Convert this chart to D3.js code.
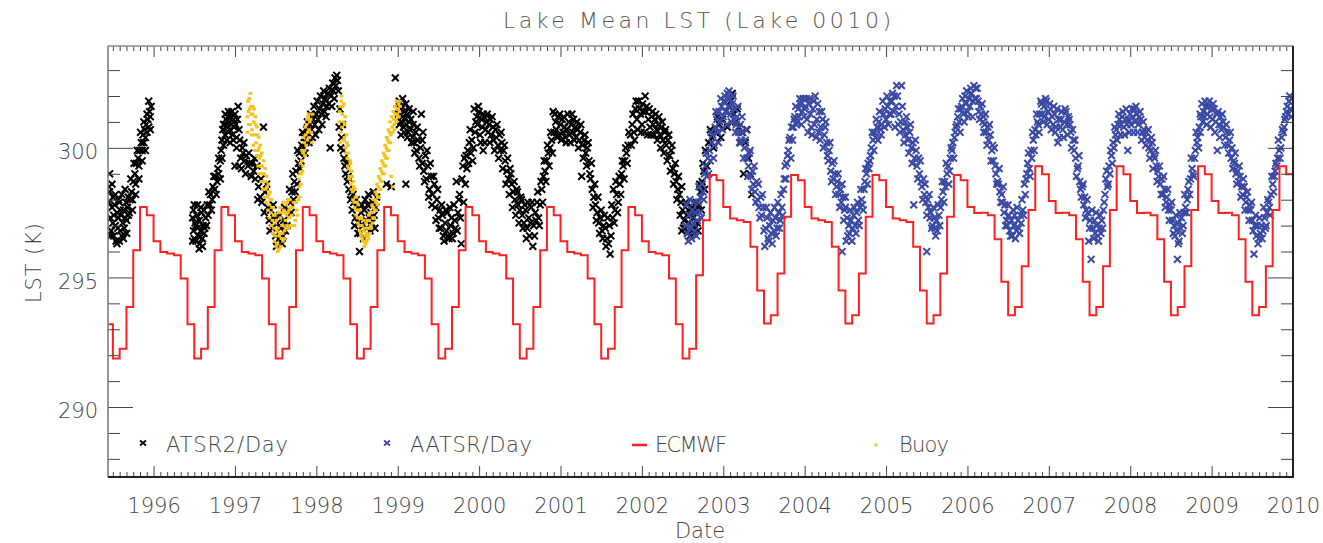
<!DOCTYPE html>
<html><head><meta charset="utf-8">
<script src="https://cdn.jsdelivr.net/npm/d3@7"></script>
<style>
body{margin:0;background:#fff}
svg{display:block}
text{font-family:"DejaVu Sans",sans-serif;font-weight:200}
</style>
</head><body>
<svg id="c" width="1323" height="543"></svg>
<script>
// ---------------- data ----------------
const title = "Lake Mean LST (Lake 0010)";
const yLabel = "LST (K)";
const xLabel = "Date";
const yearTicks = [1996,1997,1998,1999,2000,2001,2002,2003,2004,2005,2006,2007,2008,2009,2010];
const yMajorTicks = [290,295,300];
const yMinorTicks = [288,289,291,292,293,294,296,297,298,299,301,302,303];
const seriesNames = ["ATSR2/Day","AATSR/Day","ECMWF","Buoy"];

// ECMWF monthly values, first month = May 1995
const ecmwfFirstYear = 1995, ecmwfFirstMonth = 4;
const ecmwfMonthly = [
  294.96,293.19,291.87,292.25,293.86,296.05,297.72,297.40,
  296.40,295.98,295.92,295.86,294.96,293.19,291.87,292.25,293.86,296.05,297.72,297.40,
  296.40,295.98,295.92,295.86,294.96,293.19,291.87,292.25,293.86,296.05,297.72,297.40,
  296.40,295.98,295.92,295.86,294.96,293.19,291.87,292.25,293.86,296.05,297.72,297.40,
  296.40,295.98,295.92,295.86,294.96,293.19,291.87,292.25,293.86,296.05,297.72,297.40,
  296.40,295.98,295.92,295.86,294.96,293.19,291.87,292.25,293.86,296.05,297.72,297.40,
  296.40,295.98,295.92,295.86,294.96,293.19,291.87,292.25,293.86,296.05,297.72,297.40,
  296.40,295.98,295.92,295.86,294.96,293.19,291.87,292.25,295.08,297.21,298.95,298.75,
  297.72,297.27,297.21,297.14,296.18,294.50,293.22,293.54,295.15,297.34,298.95,298.75,
  297.72,297.27,297.21,297.14,296.18,294.50,293.22,293.54,295.15,297.34,298.95,298.75,
  297.72,297.27,297.21,297.14,296.18,294.50,293.22,293.54,295.15,297.34,298.95,298.75,
  297.72,297.49,297.50,297.40,296.47,294.83,293.54,293.86,295.43,297.60,299.29,298.98,
  297.95,297.49,297.50,297.40,296.47,294.83,293.54,293.86,295.43,297.60,299.29,298.98,
  297.95,297.49,297.50,297.40,296.47,294.83,293.54,293.86,295.43,297.60,299.29,298.98,
  297.95,297.49,297.50,297.40,296.47,294.83,293.54,293.86,295.43,297.60,299.29,298.98,
  297.95
];

// ATSR2/Day  [decimal year, K]
const atsr2 = [
[1995.45,297.9],[1995.46,299.0],[1995.46,298.3],[1995.47,297.3],[1995.48,296.8],[1995.49,297.7],[1995.50,298.1],[1995.50,297.1],[1995.51,296.6],[1995.52,297.8],[1995.53,297.0],[1995.54,296.4],[1995.55,297.5],[1995.56,296.9],[1995.57,297.3],[1995.58,296.4],[1995.58,297.9],[1995.59,296.8],[1995.60,297.4],[1995.61,296.6],[1995.62,297.1],[1995.63,297.6],[1995.64,296.9],[1995.65,297.3],[1995.66,297.9],[1995.67,297.2],[1995.68,297.7],[1995.69,298.1],[1995.70,297.5],[1995.71,298.0],[1995.73,298.3],[1995.74,298.0],[1995.75,298.7],[1995.77,299.0],[1995.78,298.6],[1995.79,299.4],[1995.81,299.6],[1995.82,299.3],[1995.83,299.9],[1995.85,300.2],[1995.86,299.9],[1995.87,300.5],[1995.88,300.2],[1995.89,300.7],[1995.90,300.4],[1995.91,300.9],[1995.92,300.6],[1995.93,301.1],[1995.94,300.8],[1995.95,301.4],[1995.96,301.2],[1995.97,301.6],
[1996.48,297.3],[1996.49,296.8],[1996.49,297.6],[1996.50,296.5],[1996.51,297.1],[1996.52,296.4],[1996.53,297.4],[1996.54,296.9],[1996.55,296.6],[1996.56,297.2],[1996.57,296.3],[1996.58,296.8],[1996.59,297.5],[1996.60,296.5],[1996.61,297.0],[1996.62,297.6],[1996.63,296.9],[1996.64,297.3],[1996.66,297.8],[1996.67,297.4],[1996.69,297.8],[1996.70,298.2],[1996.72,298.0],[1996.73,298.5],[1996.75,298.4],[1996.76,298.9],[1996.78,298.7],[1996.79,299.2],[1996.80,299.0],[1996.82,299.5],[1996.83,299.9],[1996.84,300.3],[1996.85,300.7],[1996.86,300.1],[1996.87,300.9],[1996.88,300.5],[1996.89,301.1],[1996.90,300.8],[1996.91,301.2],[1996.92,300.6],[1996.93,301.0],[1996.94,300.7],[1996.95,301.2],[1996.96,300.9],[1996.97,300.5],[1996.98,301.1],[1996.99,300.8],[1997.00,299.3],[1997.01,300.9],[1997.02,300.4],[1997.03,301.1],[1997.04,301.6],[1997.05,300.7],[1997.06,300.3],[1997.07,299.6],[1997.09,300.0],[1997.10,299.8],[1997.12,299.5],[1997.14,299.7],[1997.16,299.3],[1997.18,299.4],[1997.21,299.4],[1997.23,299.1],[1997.25,298.8],[1997.27,299.3],[1997.29,298.5],[1997.31,298.1],[1997.33,297.9],[1997.35,300.8],[1997.37,298.3],[1997.40,297.7],[1997.42,297.2],[1997.44,297.6],[1997.46,296.9],[1997.48,297.3],[1997.50,296.6],[1997.52,297.1],[1997.54,296.5],[1997.56,296.9],[1997.58,296.3],[1997.60,297.2],[1997.62,296.8],
[1997.66,297.6],[1997.68,297.9],[1997.70,298.3],[1997.72,298.0],[1997.73,298.7],[1997.75,299.1],[1997.76,298.6],[1997.78,299.4],[1997.79,299.8],[1997.81,299.5],[1997.82,300.1],[1997.84,300.0],[1997.85,300.4],[1997.87,300.2],[1997.88,300.7],[1997.90,300.5],[1997.92,300.9],[1997.94,300.7],[1997.96,301.1],[1997.98,300.9],[1998.00,301.3],[1998.02,301.1],[1998.04,301.5],[1998.06,301.3],[1998.08,301.7],[1998.10,301.4],[1998.11,301.9],[1998.13,301.6],[1998.14,302.1],[1998.16,302.3],[1998.17,300.0],[1998.18,302.0],[1998.20,302.5],[1998.21,302.2],[1998.23,302.7],[1998.24,302.4],[1998.25,302.8],[1998.26,302.6],[1998.28,300.8],[1998.29,301.5],[1998.31,300.4],[1998.33,299.9],[1998.35,299.3],[1998.36,299.0],[1998.38,298.7],[1998.40,298.4],[1998.42,298.0],[1998.44,297.6],[1998.46,297.9],[1998.48,297.3],[1998.50,297.7],[1998.52,297.1],[1998.53,296.0],[1998.55,297.5],[1998.57,297.0],[1998.59,297.6],[1998.61,297.2],[1998.63,297.8],[1998.65,297.3],[1998.67,297.5],[1998.69,297.9],[1998.71,297.4],[1998.73,297.7],
[1998.86,298.6],[1998.92,298.5],[1998.97,302.7],[1999.01,301.3],[1999.02,300.9],[1999.03,301.5],[1999.04,301.0],[1999.05,301.6],[1999.06,301.2],[1999.07,300.8],[1999.08,301.4],[1999.09,301.1],[1999.10,298.6],[1999.11,300.9],[1999.12,301.3],[1999.13,300.6],[1999.14,301.0],[1999.15,300.7],[1999.16,301.1],[1999.18,300.4],[1999.19,300.9],[1999.20,300.2],[1999.22,300.6],[1999.23,299.9],[1999.25,300.3],[1999.26,299.6],[1999.28,300.0],[1999.29,301.3],[1999.30,299.4],[1999.31,300.6],[1999.32,299.1],[1999.34,299.7],[1999.35,298.8],[1999.37,299.3],[1999.39,298.4],[1999.41,298.9],[1999.43,298.2],[1999.45,298.6],[1999.46,297.7],[1999.48,298.0],[1999.50,297.3],[1999.52,297.6],[1999.53,296.9],[1999.55,297.4],[1999.56,296.6],[1999.58,297.1],[1999.60,296.8],[1999.61,297.5],[1999.63,296.5],[1999.65,297.0],[1999.66,297.3],[1999.68,296.7],[1999.70,297.2],[1999.71,296.9],[1999.72,298.7],[1999.74,297.5],[1999.76,298.2],[1999.77,297.3],[1999.78,296.3],[1999.80,299.3],[1999.81,297.9],[1999.82,299.6],[1999.83,298.6],[1999.84,299.7],[1999.86,299.9],[1999.87,299.4],[1999.88,300.2],[1999.90,299.8],[1999.91,300.3],[1999.93,300.0],
[1999.94,301.5],[1999.95,300.6],[1999.97,301.2],[1999.98,300.9],[2000.00,301.4],[2000.01,300.5],[2000.03,301.1],[2000.04,300.8],[2000.05,299.9],[2000.06,301.2],[2000.08,300.7],[2000.09,301.0],[2000.11,300.6],[2000.12,300.9],[2000.14,301.1],[2000.15,300.5],[2000.17,300.8],[2000.18,300.3],[2000.20,300.7],[2000.21,300.4],[2000.23,300.1],[2000.25,300.5],[2000.26,299.9],[2000.28,300.2],[2000.30,299.9],[2000.32,299.5],[2000.34,299.1],[2000.36,298.8],[2000.38,299.2],[2000.40,298.6],[2000.42,298.3],[2000.44,298.0],[2000.46,298.4],[2000.48,297.8],[2000.50,297.6],[2000.52,298.0],[2000.53,297.4],[2000.55,297.1],[2000.57,297.6],[2000.59,296.9],[2000.61,297.3],[2000.62,296.6],[2000.64,297.7],[2000.66,296.2],[2000.67,297.0],[2000.69,297.5],[2000.71,297.9],[2000.73,297.3],[2000.75,297.8],[2000.77,298.4],[2000.79,298.9],[2000.81,299.1],[2000.83,299.5],[2000.85,299.8],[2000.87,300.0],[2000.89,300.3],
[2000.91,301.4],[2000.92,300.6],[2000.94,301.0],[2000.95,300.7],[2000.97,301.2],[2000.98,300.5],[2001.00,300.9],[2001.02,301.1],[2001.03,300.6],[2001.05,300.8],[2001.06,300.4],[2001.08,300.7],[2001.10,301.0],[2001.11,300.5],[2001.13,300.9],[2001.15,300.6],[2001.16,301.1],[2001.18,300.8],[2001.19,300.4],[2001.21,300.7],[2001.23,300.3],[2001.24,300.6],[2001.26,298.9],[2001.27,300.1],[2001.29,300.3],[2001.31,299.8],[2001.33,300.0],[2001.35,299.5],[2001.37,298.8],[2001.39,298.4],[2001.41,298.1],[2001.43,297.8],[2001.45,297.5],[2001.47,297.1],[2001.49,297.3],[2001.51,296.8],[2001.53,297.0],[2001.55,296.9],[2001.57,296.5],[2001.59,296.3],[2001.61,295.9],[2001.63,297.8],[2001.65,298.4],[2001.67,297.6],[2001.69,298.2],[2001.71,297.9],[2001.73,298.6],[2001.75,299.0],[2001.77,299.3],[2001.79,299.5],[2001.81,299.8],[2001.83,300.1],
[2001.86,300.5],[2001.88,300.9],[2001.90,300.6],[2001.92,301.5],[2001.94,301.1],[2001.96,301.8],[2001.98,301.3],[2002.00,300.9],[2002.02,301.4],[2002.04,302.0],[2002.06,301.6],[2002.08,301.1],[2002.10,300.8],[2002.12,301.2],[2002.14,300.9],[2002.16,301.1],[2002.18,300.7],[2002.20,300.9],[2002.22,300.5],[2002.24,300.8],[2002.26,300.3],[2002.28,300.6],[2002.30,300.1],[2002.32,300.3],[2002.34,299.7],[2002.36,299.9],[2002.38,299.2],[2002.40,299.0],[2002.42,298.7],[2002.44,298.4],[2002.46,298.2],[2002.48,297.9],[2002.49,296.8],[2002.50,297.6],[2002.52,297.2],[2002.53,296.9],[2002.55,297.4],[2002.56,296.7],[2002.58,297.1],[2002.60,297.5],[2002.61,296.8],[2002.63,297.3],[2002.65,296.9],[2002.66,297.6],[2002.68,297.1],[2002.70,297.8],[2002.72,298.3],[2002.74,298.7],[2002.76,299.1],[2002.78,299.9],[2002.82,300.2],[2002.86,300.4],[2002.90,300.6],[2002.95,300.9],[2002.99,301.1],[2003.03,301.4],[2003.07,301.6],[2003.11,302.1],[2003.13,301.3],[2003.15,301.0],[2003.19,300.8],[2003.23,300.6],[2003.25,299.0],[2003.27,300.2],[2003.31,299.6],[2003.35,298.2],
[1995.45,298.5],[1995.47,296.6],[1995.49,298.6],[1995.51,297.4],[1995.53,298.2],[1995.55,296.3],[1995.57,298.0],[1995.59,297.6],[1995.61,298.2],[1995.63,296.5],[1995.65,298.4],[1995.67,296.7],[1995.69,297.4],[1995.72,298.8],[1995.74,297.6],[1995.76,299.4],[1995.78,298.2],[1995.80,299.9],[1995.82,298.8],[1995.84,300.6],[1995.86,299.5],[1995.88,301.0],[1995.90,299.9],[1995.92,301.3],[1995.94,301.8],[1995.96,300.7],
[1996.48,296.4],[1996.50,297.8],[1996.52,297.0],[1996.54,297.8],[1996.56,296.1],[1996.58,297.7],[1996.60,296.2],[1996.62,296.7],[1996.65,297.0],[1996.68,298.3],[1996.71,297.6],[1996.74,298.9],[1996.77,298.2],[1996.80,299.6],[1996.82,298.8],[1996.84,299.6],[1996.86,300.9],[1996.88,301.3],[1996.90,300.3],[1996.92,301.4],[1996.94,300.2],[1996.96,301.4],[1996.98,300.3],[1997.00,301.3],[1997.02,300.0],[1997.05,299.3],[1997.08,299.2],[1997.11,300.2],[1997.13,299.0],[1997.17,299.8],[1997.20,298.9],[1997.24,299.6],[1997.28,298.0],[1997.32,298.8],[1997.36,297.5],[1997.39,298.6],[1997.43,296.8],[1997.47,297.8],[1997.51,296.2],[1997.55,297.4],[1997.59,296.6],[1997.61,297.7],[1997.64,297.0],
[1997.67,298.4],[1997.69,297.5],[1997.71,299.0],[1997.74,298.3],[1997.77,299.9],[1997.80,299.2],[1997.83,300.6],[1997.86,299.8],[1997.89,301.0],[1997.91,300.2],[1997.93,301.3],[1997.95,300.4],[1997.97,301.6],[1997.99,300.5],[1998.01,301.8],[1998.03,300.7],[1998.05,302.0],[1998.07,300.9],[1998.09,302.2],[1998.12,301.2],[1998.15,301.7],[1998.19,301.6],[1998.22,301.9],[1998.27,302.2],[1998.30,300.0],[1998.32,300.9],[1998.34,299.6],[1998.37,299.4],[1998.39,298.9],[1998.41,298.8],[1998.43,298.3],[1998.45,298.2],[1998.47,297.0],[1998.49,298.0],[1998.51,296.7],[1998.54,296.7],[1998.56,297.8],[1998.58,296.5],[1998.60,298.0],[1998.62,296.9],[1998.64,298.2],[1998.66,296.8],[1998.68,297.1],[1998.70,298.3],[1998.72,296.9],[1998.74,298.1],
[1999.02,301.8],[1999.04,300.5],[1999.06,301.9],[1999.08,300.6],[1999.10,301.7],[1999.12,300.4],[1999.14,301.5],[1999.17,300.2],[1999.19,301.4],[1999.21,299.8],[1999.24,300.8],[1999.27,299.3],[1999.30,300.3],[1999.33,298.7],[1999.36,299.9],[1999.38,298.1],[1999.40,299.4],[1999.42,297.8],[1999.44,298.9],[1999.47,297.2],[1999.49,298.4],[1999.51,296.9],[1999.54,297.8],[1999.57,296.4],[1999.59,297.6],[1999.62,296.6],[1999.64,297.7],[1999.67,296.5],[1999.69,297.8],[1999.73,296.8],[1999.75,298.0],[1999.79,298.8],[1999.85,299.2],[1999.89,300.7],[1999.92,299.5],
[1999.96,301.0],[1999.99,301.6],[2000.02,300.2],[2000.05,301.3],[2000.07,300.2],[2000.10,301.3],[2000.13,300.2],[2000.16,301.2],[2000.19,299.9],[2000.22,300.9],[2000.24,299.6],[2000.27,300.6],[2000.29,299.2],[2000.31,300.1],[2000.33,298.6],[2000.35,299.6],[2000.37,298.2],[2000.39,299.0],[2000.41,297.7],[2000.43,298.7],[2000.45,297.4],[2000.47,298.3],[2000.49,297.1],[2000.51,298.1],[2000.54,296.9],[2000.56,297.8],[2000.58,296.5],[2000.60,297.9],[2000.63,297.1],[2000.65,297.9],[2000.68,296.6],[2000.70,297.2],[2000.72,298.3],[2000.74,297.0],[2000.76,298.7],[2000.78,297.9],[2000.80,299.5],[2000.82,298.7],[2000.84,300.1],[2000.86,299.3],[2000.88,300.6],[2000.90,299.8],
[2000.93,301.3],[2000.96,300.4],[2000.99,301.3],[2001.01,300.3],[2001.04,301.2],[2001.07,300.2],[2001.09,301.3],[2001.12,300.2],[2001.14,301.3],[2001.17,300.3],[2001.20,301.0],[2001.22,300.0],[2001.25,300.9],[2001.28,299.6],[2001.30,300.5],[2001.32,299.3],[2001.34,300.2],[2001.36,299.0],[2001.38,299.4],[2001.40,297.7],[2001.42,298.6],[2001.44,297.2],[2001.46,298.1],[2001.48,296.7],[2001.50,297.6],[2001.52,296.5],[2001.54,297.4],[2001.56,296.2],[2001.58,297.3],[2001.60,297.0],[2001.62,296.6],[2001.64,297.3],[2001.66,297.1],[2001.68,298.7],[2001.70,297.5],[2001.72,298.9],[2001.74,298.2],[2001.76,299.5],[2001.78,298.8],[2001.80,300.0],[2001.82,299.4],[2001.84,300.6],
[2001.87,300.1],[2001.89,301.3],[2001.91,300.3],[2001.93,301.8],[2001.95,300.7],[2001.97,301.5],[2001.99,300.6],[2002.01,301.7],[2002.03,300.6],[2002.05,301.4],[2002.07,300.5],[2002.09,301.5],[2002.11,300.5],[2002.13,301.4],[2002.15,300.5],[2002.17,301.3],[2002.19,300.3],[2002.21,301.2],[2002.23,300.0],[2002.25,301.0],[2002.27,299.8],[2002.29,300.7],[2002.31,299.5],[2002.33,300.5],[2002.35,299.1],[2002.37,300.1],[2002.39,298.6],[2002.41,299.4],[2002.43,298.0],[2002.45,298.9],[2002.47,297.4],[2002.49,298.5],[2002.51,296.9],[2002.54,297.9],[2002.57,297.6],[2002.59,296.6],[2002.62,297.7],[2002.64,296.7],[2002.67,297.9],[2002.69,296.8],[2002.71,298.6],[2002.73,297.6],[2002.75,299.4],[2002.77,298.4],[2002.80,299.3],[2002.84,300.7],[2002.88,300.0],[2002.93,301.2],[2002.97,300.4],[2003.01,301.8],[2003.05,300.8],[2003.09,301.8],[2003.17,301.5],[2003.21,300.2],[2003.29,300.7],[2003.33,299.0]
];

// AATSR/Day  [decimal year, K]
const aatsr = [
[2002.54,297.0],[2002.56,296.7],[2002.58,297.4],[2002.60,296.9],[2002.62,297.6],[2002.63,297.1],[2002.65,296.8],[2002.66,297.5],[2002.68,297.2],[2002.69,297.9],[2002.71,297.5],[2002.72,298.1],[2002.74,298.6],[2002.75,298.3],[2002.77,299.0],[2002.78,299.3],[2002.80,298.9],[2002.81,299.6],[2002.83,299.9],[2002.84,299.5],[2002.86,300.2],[2002.87,300.5],[2002.89,300.1],[2002.90,300.8],
[2002.92,301.1],[2002.93,300.6],[2002.95,301.4],[2002.96,301.0],[2002.98,301.6],[2003.00,301.2],[2003.01,301.8],[2003.03,301.4],[2003.05,302.1],[2003.06,301.6],[2003.08,301.9],[2003.09,301.3],[2003.11,301.7],[2003.13,301.1],[2003.14,301.5],[2003.16,300.9],[2003.17,301.2],[2003.19,300.6],[2003.21,300.9],[2003.22,300.3],[2003.24,300.6],[2003.26,300.0],[2003.27,300.3],
[2003.29,299.6],[2003.31,299.3],[2003.32,299.8],[2003.34,298.9],[2003.36,299.1],[2003.37,298.6],[2003.39,298.3],[2003.41,298.7],[2003.42,298.0],[2003.44,297.7],[2003.46,298.1],[2003.47,297.4],[2003.49,297.7],[2003.51,296.2],[2003.52,296.9],[2003.54,297.3],[2003.56,296.4],[2003.57,297.0],[2003.59,296.7],[2003.61,297.2],[2003.62,296.8],[2003.64,297.3],[2003.66,296.9],[2003.68,297.5],[2003.70,297.2],
[2003.72,297.7],[2003.74,298.4],[2003.76,299.3],[2003.77,298.8],[2003.79,299.7],[2003.80,299.9],[2003.82,300.4],[2003.84,300.8],[2003.85,300.3],[2003.87,301.1],[2003.88,301.2],[2003.90,300.9],[2003.92,301.5],[2003.93,301.2],
[2003.95,301.7],[2003.97,301.4],[2003.98,301.9],[2004.00,301.5],[2004.01,301.6],[2004.03,301.1],[2004.05,301.7],[2004.07,301.3],[2004.08,300.8],[2004.10,301.5],[2004.12,300.9],[2004.13,302.0],[2004.15,301.1],[2004.17,300.6],[2004.18,301.4],[2004.20,300.8],[2004.22,301.1],[2004.24,300.5],[2004.25,300.8],[2004.27,300.2],
[2004.29,299.5],[2004.30,299.9],[2004.32,299.1],[2004.34,299.4],[2004.35,298.8],[2004.37,299.0],[2004.39,298.5],[2004.40,298.7],[2004.42,298.2],[2004.44,298.4],[2004.45,297.9],[2004.46,296.0],[2004.47,298.1],[2004.49,297.6],[2004.50,297.7],[2004.51,296.4],[2004.52,297.3],[2004.54,297.0],[2004.55,296.7],[2004.57,297.2],[2004.59,296.9],[2004.60,297.4],[2004.62,297.0],[2004.64,297.5],[2004.66,297.2],
[2004.68,297.7],[2004.70,298.0],[2004.71,297.8],[2004.73,298.4],[2004.74,298.7],[2004.76,299.0],[2004.78,299.4],[2004.79,299.2],[2004.81,299.7],[2004.82,300.0],[2004.84,300.3],[2004.86,300.6],[2004.87,300.4],[2004.89,300.8],[2004.91,301.0],[2004.93,300.7],[2004.95,300.9],
[2004.97,301.3],[2004.99,301.5],[2005.00,301.1],[2005.02,301.6],[2005.04,301.3],[2005.05,301.8],[2005.07,301.8],[2005.09,301.4],[2005.10,302.0],[2005.12,301.6],[2005.13,302.4],[2005.15,300.9],[2005.16,301.3],[2005.18,301.0],[2005.19,302.4],[2005.21,300.7],[2005.23,301.0],[2005.24,300.5],[2005.26,300.8],[2005.27,300.3],[2005.29,300.6],[2005.31,300.0],[2005.33,300.2],[2005.34,297.8],[2005.35,299.6],[2005.37,299.9],[2005.38,299.3],[2005.40,299.6],
[2005.41,299.0],[2005.43,298.7],[2005.44,298.5],[2005.46,298.8],[2005.47,298.2],[2005.49,297.9],[2005.50,296.0],[2005.51,298.0],[2005.52,297.7],[2005.54,297.3],[2005.55,297.5],[2005.57,297.0],[2005.59,297.3],[2005.60,296.9],[2005.62,297.2],[2005.63,296.8],[2005.65,297.4],
[2005.67,297.7],[2005.68,298.0],[2005.70,298.3],[2005.72,298.7],[2005.73,298.5],[2005.75,299.0],[2005.76,299.3],[2005.78,299.1],[2005.79,299.6],[2005.81,299.9],[2005.82,300.2],[2005.84,300.4],[2005.85,300.6],[2005.87,300.9],[2005.88,301.2],[2005.90,301.0],
[2005.92,301.5],[2005.93,301.6],[2005.95,301.3],[2005.97,302.0],[2005.98,301.7],[2006.00,301.4],[2006.02,301.9],[2006.03,301.6],[2006.05,302.1],[2006.07,301.8],[2006.08,302.4],[2006.10,302.3],[2006.11,301.9],[2006.13,301.8],[2006.14,301.4],[2006.16,301.6],[2006.17,301.3],[2006.19,301.0],[2006.20,301.2],[2006.21,300.9],[2006.23,300.6],[2006.25,300.8],[2006.26,300.3],[2006.28,300.5],
[2006.30,299.9],[2006.31,300.1],[2006.32,299.5],[2006.34,299.3],[2006.35,299.0],[2006.37,298.7],[2006.38,298.6],[2006.40,298.3],[2006.42,298.2],[2006.43,297.9],[2006.45,297.5],[2006.46,297.8],[2006.48,297.2],[2006.49,297.0],[2006.51,297.4],[2006.52,296.8],[2006.54,297.2],[2006.55,296.6],[2006.57,297.0],[2006.58,297.4],[2006.60,296.8],[2006.62,297.2],[2006.63,296.9],[2006.65,297.4],[2006.66,297.1],[2006.68,297.6],
[2006.70,298.6],[2006.71,298.2],[2006.73,299.0],[2006.74,299.4],[2006.76,299.2],[2006.78,299.9],[2006.79,299.6],[2006.81,300.3],[2006.83,300.7],[2006.84,300.5],[2006.86,301.0],[2006.87,300.9],[2006.89,301.3],
[2006.91,301.7],[2006.92,301.3],[2006.94,301.6],[2006.95,301.2],[2006.97,301.8],[2006.99,301.4],[2007.00,301.1],[2007.02,301.5],[2007.04,301.2],[2007.05,300.9],[2007.07,301.3],[2007.09,300.8],[2007.11,300.2],[2007.12,301.1],[2007.14,300.8],[2007.15,301.1],[2007.17,300.7],[2007.19,301.0],[2007.21,301.4],[2007.22,300.9],[2007.24,301.2],[2007.25,301.1],[2007.27,300.6],[2007.29,300.7],[2007.30,300.3],
[2007.31,299.9],[2007.33,299.6],[2007.35,299.2],[2007.36,299.3],[2007.38,298.7],[2007.40,298.1],[2007.41,298.5],[2007.43,297.8],[2007.44,298.1],[2007.46,297.6],[2007.48,297.5],[2007.49,296.4],[2007.51,297.2],[2007.52,295.7],[2007.54,296.9],[2007.56,297.2],[2007.57,296.7],[2007.59,297.0],[2007.60,296.6],[2007.62,296.9],[2007.64,296.7],[2007.65,297.2],[2007.67,297.6],
[2007.69,298.2],[2007.70,298.8],[2007.72,298.5],[2007.74,299.3],[2007.75,299.0],[2007.77,299.7],[2007.79,300.2],[2007.80,300.0],[2007.82,300.5],[2007.83,300.7],[2007.85,300.9],[2007.87,301.1],
[2007.89,300.9],[2007.90,301.2],[2007.92,300.8],[2007.94,301.1],[2007.96,300.9],[2007.97,299.9],[2007.98,301.1],[2008.00,301.3],[2008.01,300.9],[2008.03,301.2],[2008.05,301.5],[2008.06,301.0],[2008.08,301.3],[2008.10,300.9],[2008.11,301.2],[2008.13,301.1],[2008.15,300.6],[2008.17,300.7],[2008.18,300.4],[2008.20,300.6],[2008.21,300.3],[2008.23,300.0],[2008.25,299.9],[2008.27,300.2],[2008.29,299.7],[2008.30,299.6],
[2008.32,299.3],[2008.34,299.1],[2008.35,298.9],[2008.37,298.6],[2008.39,298.8],[2008.40,298.2],[2008.42,298.4],[2008.44,297.9],[2008.45,298.1],[2008.47,297.6],[2008.49,297.8],[2008.50,297.6],[2008.52,297.2],[2008.54,297.0],[2008.55,296.6],[2008.57,296.8],[2008.58,295.7],[2008.59,297.1],[2008.60,296.4],[2008.62,296.9],[2008.63,297.3],[2008.65,297.0],[2008.66,297.5],
[2008.68,297.7],[2008.70,298.0],[2008.71,298.4],[2008.73,298.2],[2008.74,298.8],[2008.76,299.2],[2008.77,299.0],[2008.79,299.6],[2008.80,299.9],[2008.82,300.2],[2008.83,300.4],[2008.85,300.8],[2008.86,300.6],[2008.87,301.2],
[2008.88,301.7],[2008.90,301.4],[2008.91,301.2],[2008.93,301.6],[2008.95,301.3],[2008.96,301.6],[2008.98,301.2],[2009.00,301.5],[2009.01,301.1],[2009.03,301.5],[2009.05,301.0],[2009.06,301.3],[2009.07,299.9],[2009.09,300.9],[2009.11,301.2],[2009.12,300.7],[2009.14,301.0],[2009.15,300.8],[2009.17,300.4],[2009.19,300.6],[2009.20,300.1],[2009.22,300.3],[2009.24,299.6],[2009.25,300.0],[2009.27,299.5],[2009.28,299.4],
[2009.30,299.0],[2009.32,299.1],[2009.33,298.7],[2009.35,298.9],[2009.37,298.5],[2009.38,298.2],[2009.40,298.5],[2009.42,297.9],[2009.43,298.1],[2009.45,297.6],[2009.47,297.8],[2009.48,297.6],[2009.50,297.2],[2009.52,295.9],[2009.53,297.0],[2009.55,296.6],[2009.56,297.0],[2009.58,296.5],[2009.60,296.7],[2009.61,297.0],[2009.63,296.8],[2009.65,297.3],
[2009.67,297.0],[2009.68,297.5],[2009.70,297.9],[2009.71,297.7],[2009.73,298.2],[2009.75,298.6],[2009.77,298.9],[2009.78,299.1],[2009.80,299.3],[2009.81,299.6],[2009.83,299.9],[2009.85,300.0],[2009.86,300.4],[2009.88,300.6],[2009.89,300.8],[2009.91,301.2],[2009.93,301.6],[2009.94,301.3],[2009.95,301.8],[2009.97,301.5],[2009.99,301.9],
[2002.55,297.8],[2002.57,296.4],[2002.59,298.0],[2002.61,296.5],[2002.64,297.9],[2002.67,296.6],[2002.70,298.5],[2002.73,297.3],[2002.76,298.0],[2002.79,299.8],[2002.82,299.0],[2002.85,300.6],[2002.88,299.6],[2002.91,301.4],[2002.94,300.2],[2002.97,301.9],[2002.99,300.7],[2003.02,302.0],[2003.04,300.9],[2003.07,302.2],[2003.10,301.0],[2003.12,302.0],[2003.15,300.6],[2003.18,301.6],[2003.20,300.2],[2003.23,301.2],[2003.25,299.6],[2003.28,300.7],[2003.30,298.9],[2003.33,299.9],[2003.35,298.4],[2003.38,299.3],[2003.40,297.9],[2003.43,298.6],[2003.45,297.3],[2003.48,298.2],[2003.50,296.8],[2003.53,297.7],[2003.55,296.5],[2003.58,297.5],[2003.60,296.3],[2003.63,297.7],[2003.65,296.6],[2003.67,297.9],[2003.69,296.9],[2003.71,298.2],[2003.73,297.4],[2003.75,298.8],[2003.78,299.4],[2003.81,300.3],[2003.83,299.6],[2003.86,300.8],[2003.89,301.6],[2003.91,301.0],[2003.94,301.9],[2003.96,300.9],[2003.99,301.2],
[2004.02,301.9],[2004.04,300.6],[2004.06,301.9],[2004.09,300.5],[2004.11,301.8],[2004.14,300.4],[2004.16,301.7],[2004.19,300.3],[2004.21,301.4],[2004.23,300.0],[2004.26,301.0],[2004.28,299.7],[2004.31,300.2],[2004.33,298.7],[2004.36,299.5],[2004.38,298.2],[2004.41,299.0],[2004.43,297.7],[2004.46,298.6],[2004.48,297.2],[2004.50,298.1],[2004.53,296.6],[2004.56,297.6],[2004.58,296.4],[2004.61,297.7],[2004.63,296.7],[2004.65,297.9],[2004.67,297.0],[2004.69,298.4],[2004.72,297.6],[2004.75,299.2],[2004.77,298.6],[2004.80,299.5],[2004.83,300.6],[2004.85,299.9],[2004.88,301.1],[2004.90,300.3],[2004.92,301.4],[2004.94,300.5],[2004.96,301.8],[2004.98,300.8],
[2005.01,302.0],[2005.03,300.9],[2005.06,301.3],[2005.08,302.1],[2005.11,300.8],[2005.14,302.0],[2005.17,300.6],[2005.20,301.6],[2005.22,300.2],[2005.25,301.2],[2005.28,299.8],[2005.30,300.9],[2005.32,299.4],[2005.36,300.3],[2005.39,298.8],[2005.42,299.5],[2005.45,298.0],[2005.48,298.6],[2005.50,297.4],[2005.53,298.2],[2005.56,296.9],[2005.58,297.7],[2005.61,296.6],[2005.64,297.8],[2005.66,297.0],[2005.69,298.7],[2005.71,297.9],[2005.74,299.4],[2005.77,298.6],[2005.80,300.0],[2005.83,299.6],[2005.86,300.8],[2005.89,301.5],[2005.91,300.6],[2005.94,301.9],[2005.96,301.0],[2005.99,302.2],
[2006.01,301.2],[2006.04,302.3],[2006.06,301.2],[2006.09,301.9],[2006.12,302.3],[2006.15,301.1],[2006.18,301.7],[2006.20,300.6],[2006.22,301.3],[2006.24,300.1],[2006.27,300.9],[2006.29,299.5],[2006.33,300.0],[2006.36,298.6],[2006.39,299.2],[2006.41,297.9],[2006.44,298.5],[2006.47,297.0],[2006.50,297.8],[2006.53,296.6],[2006.56,297.6],[2006.59,296.5],[2006.61,297.7],[2006.64,296.7],[2006.67,298.0],[2006.69,297.4],[2006.72,298.8],[2006.75,299.8],[2006.77,298.9],[2006.80,300.6],[2006.82,299.9],[2006.85,301.3],[2006.88,300.6],[2006.90,301.8],[2006.93,301.0],[2006.96,301.9],[2006.98,300.9],
[2007.01,301.7],[2007.03,300.7],[2007.06,301.6],[2007.08,300.6],[2007.10,301.5],[2007.13,300.4],[2007.16,301.4],[2007.18,300.4],[2007.20,301.5],[2007.23,300.5],[2007.26,300.9],[2007.28,300.0],[2007.32,300.3],[2007.34,298.9],[2007.37,299.7],[2007.39,298.4],[2007.42,298.6],[2007.45,297.3],[2007.47,298.0],[2007.50,296.9],[2007.53,297.6],[2007.55,296.5],[2007.58,297.5],[2007.61,296.4],[2007.63,297.4],[2007.66,296.9],[2007.68,297.9],[2007.71,299.1],[2007.73,298.6],[2007.76,299.9],[2007.78,299.4],[2007.81,300.8],[2007.84,300.3],[2007.86,301.3],[2007.88,300.5],[2007.91,301.4],[2007.93,300.5],[2007.95,301.5],[2007.99,300.6],
[2008.02,301.5],[2008.04,300.6],[2008.07,301.6],[2008.09,300.6],[2008.12,301.4],[2008.14,300.3],[2008.16,301.0],[2008.19,300.1],[2008.22,300.7],[2008.24,299.6],[2008.26,300.4],[2008.28,299.2],[2008.31,299.9],[2008.33,298.7],[2008.36,299.3],[2008.38,298.2],[2008.41,298.9],[2008.43,297.7],[2008.46,298.4],[2008.48,297.2],[2008.51,297.9],[2008.53,296.7],[2008.56,297.4],[2008.59,296.3],[2008.61,297.5],[2008.64,296.7],[2008.67,298.2],[2008.69,297.5],[2008.72,298.7],[2008.75,299.6],[2008.78,298.9],[2008.81,300.6],[2008.84,300.0],[2008.86,301.3],[2008.89,301.0],[2008.92,301.8],[2008.94,300.9],[2008.97,301.8],[2008.99,300.8],
[2009.02,301.7],[2009.04,300.6],[2009.08,301.4],[2009.10,300.4],[2009.13,301.3],[2009.16,300.1],[2009.18,300.9],[2009.21,299.8],[2009.23,300.6],[2009.26,299.2],[2009.29,299.8],[2009.31,298.6],[2009.34,299.3],[2009.36,298.1],[2009.39,298.8],[2009.41,297.6],[2009.44,298.3],[2009.46,297.2],[2009.49,297.9],[2009.51,296.8],[2009.54,297.4],[2009.57,296.3],[2009.59,297.3],[2009.62,296.5],[2009.64,297.7],[2009.66,296.9],[2009.69,298.0],[2009.72,297.4],[2009.74,298.9],[2009.76,298.3],[2009.79,299.4],[2009.82,300.3],[2009.84,299.6],[2009.87,300.7],[2009.90,301.1],[2009.92,301.4],[2009.96,302.0],[2009.98,301.2]
];

// Buoy  [decimal year, K]
const buoy = [
[1997.15,301.2],[1997.16,301.8],[1997.17,300.9],[1997.18,301.5],[1997.19,302.1],[1997.20,301.3],[1997.21,300.7],[1997.22,301.6],[1997.23,301.0],[1997.24,300.5],[1997.25,301.2],[1997.26,300.2],[1997.27,300.8],[1997.28,299.9],[1997.29,300.4],[1997.30,299.6],[1997.31,300.1],[1997.32,299.3],[1997.33,299.8],[1997.34,299.0],[1997.35,299.5],[1997.36,298.7],[1997.37,299.2],[1997.38,298.4],[1997.39,298.9],[1997.40,298.1],[1997.41,298.6],[1997.42,297.8],[1997.43,298.3],[1997.44,297.5],[1997.45,298.0],[1997.46,297.2],[1997.47,297.7],[1997.48,296.9],[1997.49,297.4],[1997.50,296.6],[1997.51,297.2],[1997.52,296.3],[1997.53,296.9],[1997.54,296.1],[1997.55,296.7],[1997.56,297.3],[1997.57,296.5],[1997.58,297.0],[1997.59,296.4],[1997.60,297.6],[1997.61,296.8],[1997.62,297.2],[1997.63,297.8],[1997.64,297.0],[1997.65,297.5],[1997.66,298.0],[1997.67,297.3],[1997.68,297.7],[1997.70,297.4],[1997.72,297.9],[1997.74,297.2],[1997.76,297.6],[1997.78,298.0],[1997.79,298.5],[1997.80,299.0],[1997.81,298.6],[1997.82,299.5],[1997.83,299.1],[1997.84,299.8],[1997.85,300.2],[1997.86,299.7],[1997.87,300.5],[1997.88,300.9],[1997.89,300.3],[1997.90,301.2],[1997.91,300.7],[1997.92,301.0],[1997.94,300.6],[1997.95,301.3],
[1998.28,301.0],[1998.29,301.6],[1998.30,300.6],[1998.31,302.0],[1998.32,301.3],[1998.33,300.3],[1998.34,301.7],[1998.35,300.9],[1998.36,300.0],[1998.37,300.5],[1998.38,299.6],[1998.39,300.1],[1998.40,299.2],[1998.41,298.8],[1998.42,299.4],[1998.43,298.4],[1998.44,298.9],[1998.45,298.0],[1998.46,298.5],[1998.47,297.7],[1998.48,298.1],[1998.49,297.4],[1998.50,297.9],[1998.51,297.1],[1998.52,297.6],[1998.53,296.8],[1998.54,297.3],[1998.55,296.6],[1998.56,297.0],[1998.57,296.4],[1998.58,296.8],[1998.59,296.2],[1998.60,296.6],[1998.61,297.1],[1998.62,296.4],[1998.63,296.9],[1998.64,296.5],[1998.65,297.2],[1998.66,296.7],[1998.67,297.0],[1998.68,297.5],[1998.69,297.1],[1998.70,297.7],[1998.71,297.3],[1998.72,298.0],[1998.73,297.6],[1998.74,298.2],[1998.75,297.8],[1998.76,298.5],[1998.77,298.1],[1998.78,298.8],[1998.79,298.4],[1998.80,299.1],[1998.81,298.7],[1998.82,299.4],[1998.83,299.0],[1998.84,299.7],[1998.85,299.3],[1998.86,300.0],[1998.87,299.6],[1998.88,300.3],[1998.89,299.9],[1998.90,300.6],[1998.91,300.2],[1998.92,298.9],[1998.93,300.8],[1998.94,298.5],[1998.95,301.1],[1998.96,300.7],[1998.97,301.3],[1998.98,301.0],[1998.99,301.5],[1999.00,301.2],[1999.01,301.7],[1999.02,301.4],[1999.03,301.6],
[1997.155,300.6],[1997.165,301.4],[1997.175,301.9],[1997.185,300.9],[1997.195,301.6],[1997.205,300.5],[1997.215,301.3],[1997.225,300.1],[1997.235,301.5],[1997.245,299.9],[1997.255,300.9],[1997.265,299.7],[1997.275,300.5],[1997.285,299.3],[1997.295,300.0],[1997.305,299.0],[1997.315,299.7],[1997.325,298.7],[1997.335,299.3],[1997.345,298.4],[1997.355,299.0],[1997.365,298.1],[1997.375,298.7],[1997.385,297.9],[1997.395,298.5],[1997.405,297.6],[1997.415,298.2],[1997.425,297.3],[1997.435,298.0],[1997.445,297.0],[1997.455,297.7],[1997.465,296.7],[1997.475,297.4],[1997.485,296.4],[1997.495,297.1],[1997.505,296.2],[1997.515,296.8],[1997.525,296.0],[1997.535,297.5],[1997.545,296.6],[1997.555,297.7],[1997.565,296.2],[1997.575,297.5],[1997.585,296.7],[1997.595,297.9],[1997.605,296.5],[1997.615,297.5],[1997.625,296.9],[1997.635,297.4],[1997.645,297.9],[1997.655,296.9],[1997.665,297.6],[1997.675,298.0],[1997.69,297.0],[1997.71,297.7],[1997.73,297.0],[1997.75,297.9],[1997.77,297.4],[1997.785,298.8],[1997.795,298.1],[1997.805,299.4],[1997.815,299.0],[1997.825,299.9],[1997.835,299.3],[1997.845,300.4],[1997.855,299.9],[1997.865,300.8],[1997.875,300.1],[1997.885,301.1],[1997.895,300.6],[1997.905,301.3],[1997.915,300.4],[1997.93,301.1],[1997.945,300.2],
[1998.285,301.4],[1998.295,300.2],[1998.305,301.8],[1998.315,300.8],[1998.325,301.6],[1998.335,301.0],[1998.345,300.4],[1998.355,301.2],[1998.365,299.8],[1998.375,300.2],[1998.385,299.3],[1998.395,299.8],[1998.405,298.9],[1998.415,299.5],[1998.425,298.6],[1998.435,299.1],[1998.445,298.3],[1998.455,298.7],[1998.465,297.9],[1998.475,298.4],[1998.485,297.6],[1998.495,298.1],[1998.505,297.3],[1998.515,297.8],[1998.525,297.0],[1998.535,297.6],[1998.545,296.7],[1998.555,297.3],[1998.565,296.5],[1998.575,297.2],[1998.585,296.4],[1998.595,296.9],[1998.605,296.3],[1998.615,296.7],[1998.625,297.2],[1998.635,296.6],[1998.645,297.4],[1998.655,296.9],[1998.665,297.5],[1998.675,296.9],[1998.685,297.8],[1998.695,297.3],[1998.705,298.0],[1998.715,297.6],[1998.725,298.3],[1998.735,297.9],[1998.745,298.6],[1998.755,298.1],[1998.765,298.9],[1998.775,298.4],[1998.785,299.2],[1998.795,298.7],[1998.805,299.5],[1998.815,299.0],[1998.825,299.8],[1998.835,299.3],[1998.845,300.1],[1998.855,299.6],[1998.865,300.4],[1998.875,299.9],[1998.885,300.7],[1998.895,300.2],[1998.905,301.0],[1998.915,300.5],[1998.925,301.2],[1998.935,300.6],[1998.945,301.4],[1998.955,300.9],[1998.965,301.6],[1998.975,301.1],[1998.985,301.8],[1998.995,301.3],[1999.005,301.5],[1999.015,301.2],[1999.025,301.8]
];

// ---------------- drawing ----------------
const L = 108, R = 1293, T = 46, B = 477;
const svg = d3.select("#c");
const x = d3.scaleLinear().domain([1995.44, 2010]).range([L, R]);
const y = d3.scaleLinear().domain([287.3, 303.93]).range([B, T]);

const ecmwf = ecmwfMonthly.map((v, i) => [ecmwfFirstYear + (ecmwfFirstMonth + i) / 12, v]);
const monthTicks = d3.range(Math.ceil(1995.44 * 12), 2010 * 12 + 1).map(m => m / 12).filter(t => Math.abs(t - Math.round(t)) > 1e-6);

svg.append("defs").append("clipPath").attr("id", "clip")
  .append("rect").attr("x", L).attr("y", T).attr("width", R - L).attr("height", B - T);

const plot = svg.append("g").attr("clip-path", "url(#clip)");
const cross = "M-3.4,-3.4L3.4,3.4M-3.4,3.4L3.4,-3.4";

plot.append("g").selectAll("path").data(atsr2).join("path")
  .attr("d", cross).attr("transform", d => `translate(${x(d[0])},${y(d[1])})`)
  .attr("fill", "none").attr("stroke", "#000").attr("stroke-width", 2);

plot.append("g").selectAll("path").data(aatsr).join("path")
  .attr("d", cross).attr("transform", d => `translate(${x(d[0])},${y(d[1])})`)
  .attr("fill", "none").attr("stroke", "#3a49a3").attr("stroke-width", 2);

plot.append("path").datum(ecmwf)
  .attr("d", d3.line().x(d => x(d[0])).y(d => y(d[1])).curve(d3.curveStepAfter))
  .attr("fill", "none").attr("stroke", "#ff2020").attr("stroke-width", 2);

plot.append("g").selectAll("rect").data(buoy).join("rect")
  .attr("x", d => x(d[0]) - 1.8).attr("y", d => y(d[1]) - 1.5).attr("width", 3.6).attr("height", 3)
  .attr("fill", "#f6c21e");

// axes (ticks)
function styleAxis(g) {
  g.select(".domain").remove();
  g.attr("font-family", "DejaVu Sans").attr("font-size", 21);
  g.selectAll("line").attr("stroke", "#444").attr("stroke-width", 1);
  g.selectAll("text").attr("fill", "#444").attr("font-weight", 200);
}
svg.append("g").attr("transform", `translate(0,${B})`)
  .call(d3.axisBottom(x).tickValues(yearTicks).tickSizeInner(-11).tickSizeOuter(0).tickPadding(21).tickFormat(d3.format("d")))
  .call(styleAxis);
svg.append("g").attr("transform", `translate(0,${B})`)
  .call(d3.axisBottom(x).tickValues(monthTicks).tickSizeInner(-5).tickSizeOuter(0).tickFormat(""))
  .call(styleAxis);
svg.append("g").attr("transform", `translate(0,${T})`)
  .call(d3.axisTop(x).tickValues(yearTicks).tickSizeInner(-11).tickSizeOuter(0).tickFormat(""))
  .call(styleAxis);
svg.append("g").attr("transform", `translate(0,${T})`)
  .call(d3.axisTop(x).tickValues(monthTicks).tickSizeInner(-5).tickSizeOuter(0).tickFormat(""))
  .call(styleAxis);
const gl = svg.append("g").attr("transform", `translate(${L},0)`)
  .call(d3.axisLeft(y).tickValues(yMajorTicks).tickSizeInner(-25).tickSizeOuter(0).tickPadding(10).tickFormat(d3.format("d")))
  .call(styleAxis);
gl.selectAll("text").attr("dy", "0.52em");
svg.append("g").attr("transform", `translate(${L},0)`)
  .call(d3.axisLeft(y).tickValues(yMinorTicks).tickSizeInner(-12).tickSizeOuter(0).tickFormat(""))
  .call(styleAxis);
svg.append("g").attr("transform", `translate(${R},0)`)
  .call(d3.axisRight(y).tickValues(yMajorTicks).tickSizeInner(-25).tickSizeOuter(0).tickFormat(""))
  .call(styleAxis);
svg.append("g").attr("transform", `translate(${R},0)`)
  .call(d3.axisRight(y).tickValues(yMinorTicks).tickSizeInner(-12).tickSizeOuter(0).tickFormat(""))
  .call(styleAxis);

// frame
svg.append("line").attr("x1", L).attr("x2", R).attr("y1", T).attr("y2", T).attr("stroke", "#888").attr("stroke-width", 1.5);
svg.append("line").attr("x1", L).attr("x2", L).attr("y1", T).attr("y2", B).attr("stroke", "#777").attr("stroke-width", 1.5);
svg.append("line").attr("x1", L).attr("x2", R + 1).attr("y1", B).attr("y2", B).attr("stroke", "#222").attr("stroke-width", 2);
svg.append("line").attr("x1", R).attr("x2", R).attr("y1", T).attr("y2", B).attr("stroke", "#222").attr("stroke-width", 2);

// texts
svg.append("text").attr("x", 697).attr("y", 28).attr("text-anchor", "middle")
  .attr("font-size", 22).attr("fill", "#555").attr("textLength", 388).attr("lengthAdjust", "spacing").text(title);
svg.append("text").attr("transform", "translate(41,263) rotate(-90)").attr("text-anchor", "middle")
  .attr("font-size", 21).attr("fill", "#444").attr("textLength", 80).attr("lengthAdjust", "spacing").text(yLabel);
svg.append("text").attr("x", 700).attr("y", 538).attr("text-anchor", "middle")
  .attr("font-size", 21).attr("fill", "#444").text(xLabel);

// legend
const lg = svg.append("g");
const legendItems = [
  {name: seriesNames[0], x: 143, kind: "x", color: "#000", w: 122},
  {name: seriesNames[1], x: 387, kind: "x", color: "#3a49a3", w: 122},
  {name: seriesNames[2], x: 640, kind: "line", color: "#ff2020", w: 72},
  {name: seriesNames[3], x: 876, kind: "dot", color: "#f6c21e", w: 50}
];
legendItems.forEach(it => {
  if (it.kind === "x") {
    lg.append("path").attr("d", "M-3,-2.5L3,2.5M-3,2.5L3,-2.5").attr("transform", `translate(${it.x},443)`)
      .attr("stroke", it.color).attr("stroke-width", 1.8).attr("fill", "none");
  } else if (it.kind === "line") {
    lg.append("line").attr("x1", it.x - 8).attr("x2", it.x + 7).attr("y1", 445).attr("y2", 445)
      .attr("stroke", it.color).attr("stroke-width", 2.5);
  } else {
    lg.append("rect").attr("x", it.x - 1.5).attr("y", 443.5).attr("width", 3).attr("height", 3).attr("fill", it.color);
  }
  lg.append("text").attr("x", it.x + 23 - (it.kind === "line" ? 8 : 0)).attr("y", 452)
    .attr("font-size", 21).attr("fill", "#444").attr("textLength", it.w).attr("lengthAdjust", "spacing").text(it.name);
});
</script>
</body></html>
